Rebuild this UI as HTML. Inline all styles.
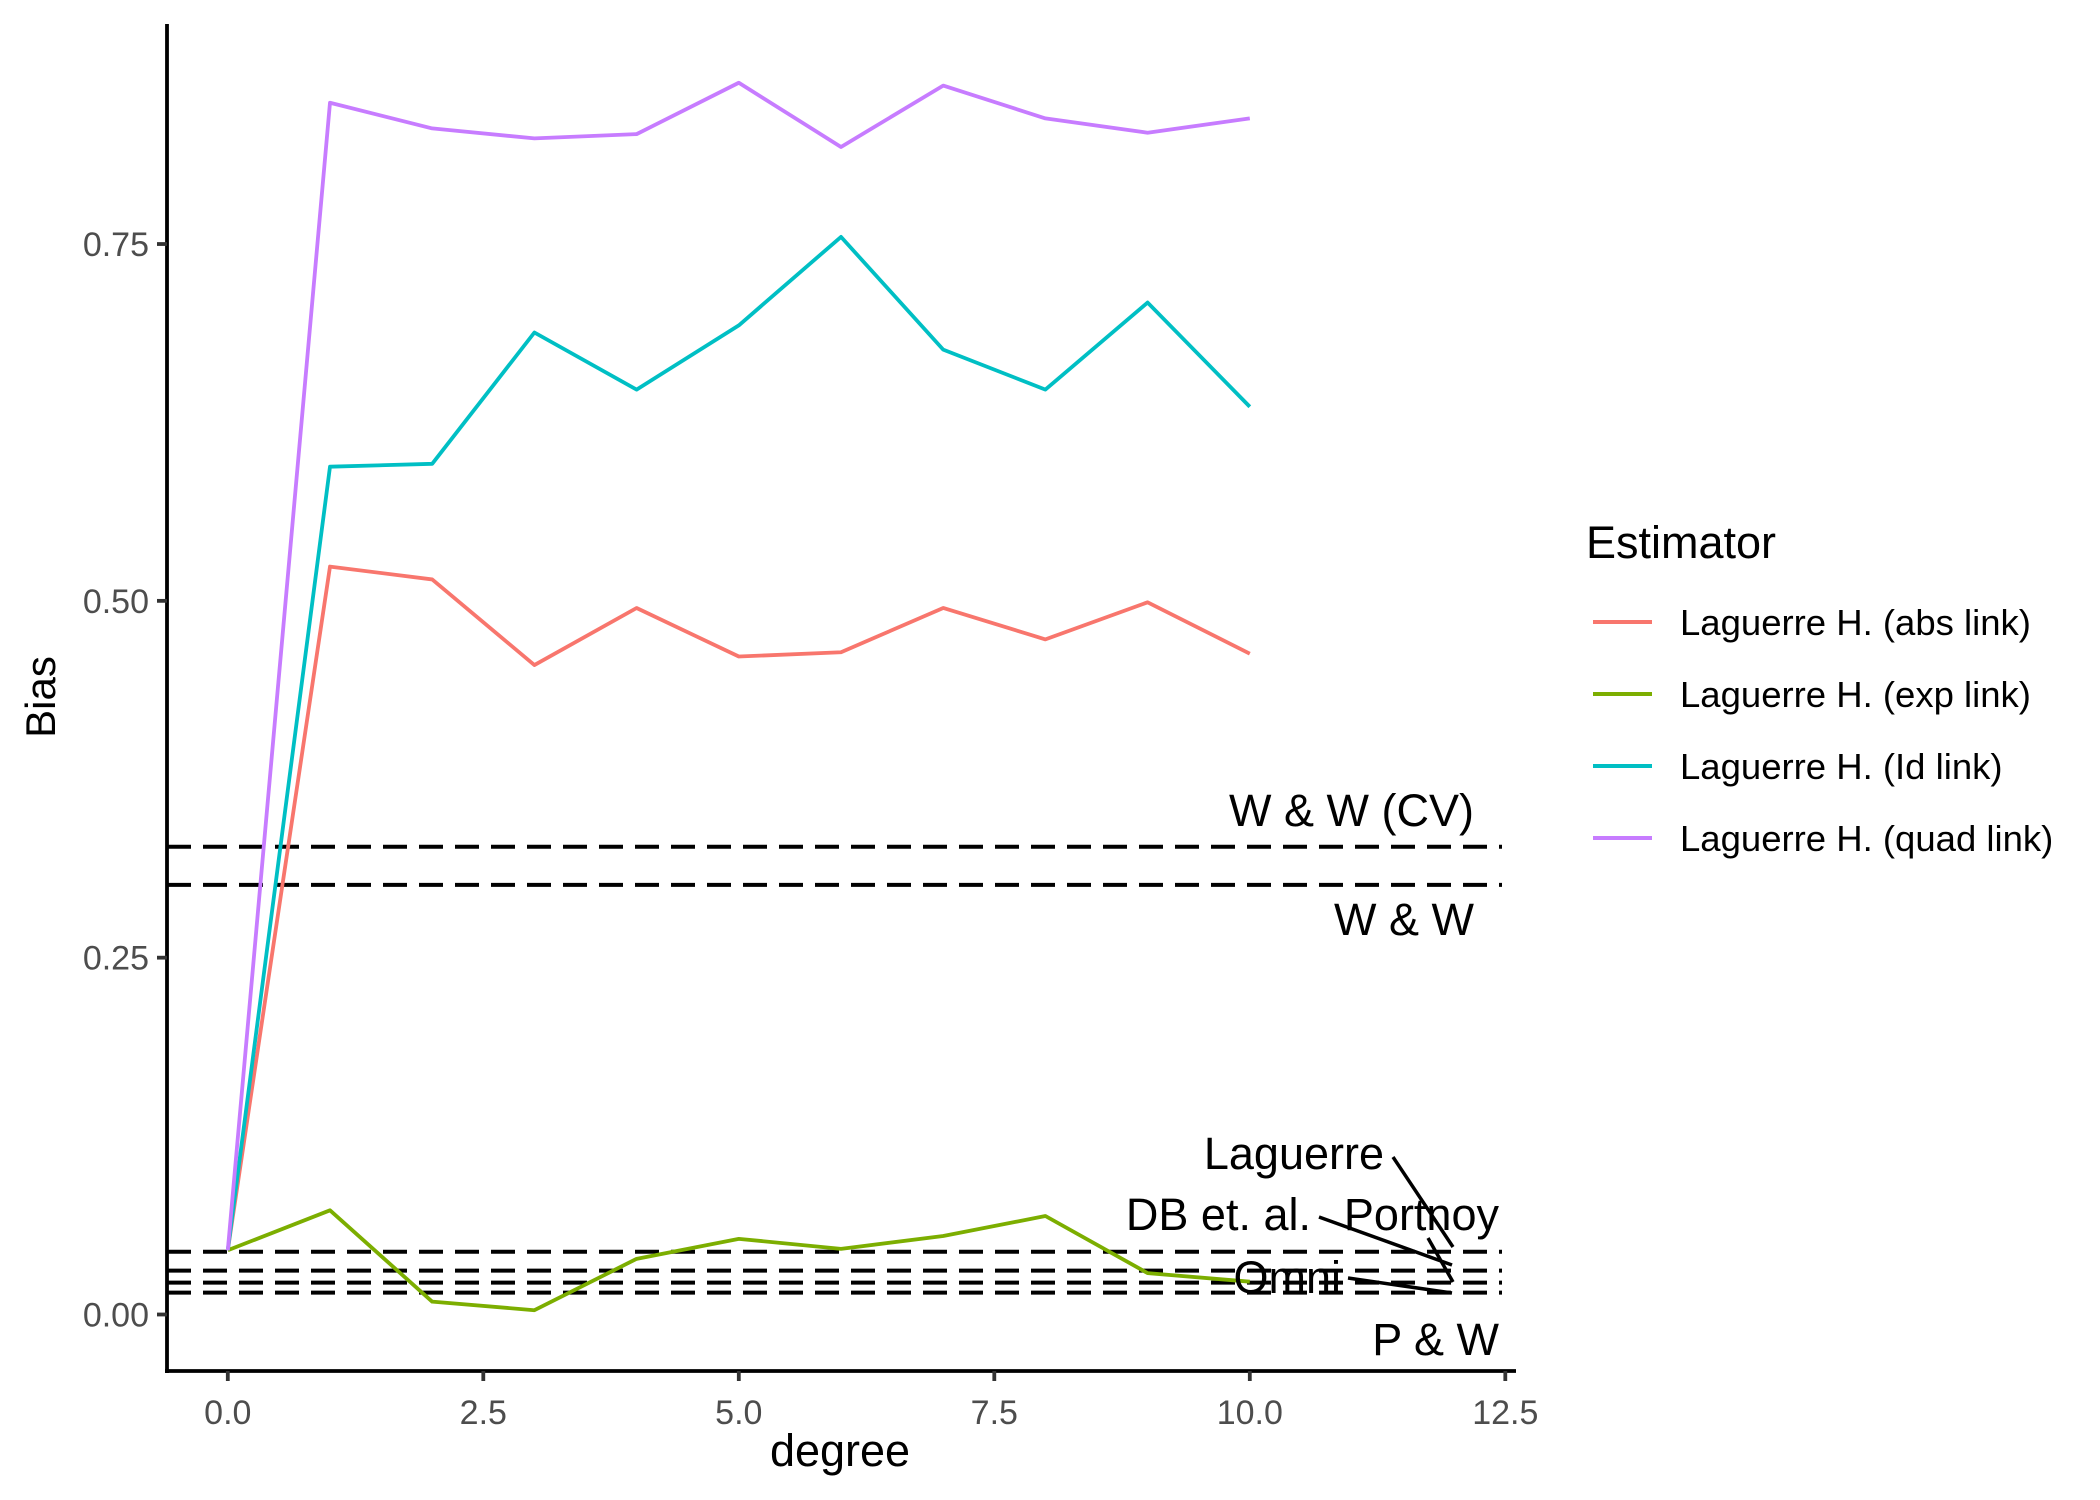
<!DOCTYPE html>
<html><head><meta charset="utf-8"><style>
html,body{margin:0;padding:0;background:#fff;}
svg{display:block;font-family:"Liberation Sans",Arial,sans-serif;}
</style></head><body>
<svg id="chart" width="2100" height="1500" viewBox="0 0 2100 1500" xmlns="http://www.w3.org/2000/svg">
<rect width="2100" height="1500" fill="#fff"/>
<g id="plot"></g>
</svg>
<script>
const degrees=[0,1,2,3,4,5,6,7,8,9,10];
const seriesNames=["Laguerre H. (abs link)","Laguerre H. (exp link)","Laguerre H. (Id link)","Laguerre H. (quad link)"];
const absLink=[0.045,0.524,0.515,0.455,0.495,0.461,0.464,0.495,0.473,0.499,0.463];
const expLink=[0.045,0.073,0.009,0.003,0.039,0.053,0.046,0.055,0.069,0.029,0.023];
const idLink=[0.045,0.594,0.596,0.688,0.648,0.693,0.755,0.676,0.648,0.709,0.636];
const quadLink=[0.045,0.849,0.831,0.824,0.827,0.863,0.818,0.861,0.838,0.828,0.838];
const hlineValues=[0.3277,0.301,0.044,0.0307,0.0223,0.0153];
const xTicks=[0,2.5,5,7.5,10,12.5];
const xTickLabels=["0.0","2.5","5.0","7.5","10.0","12.5"];
const yTicks=[0,0.25,0.5,0.75];
const yTickLabels=["0.00","0.25","0.50","0.75"];

const NS="http://www.w3.org/2000/svg";
const g=document.getElementById('plot');
const colors=["#F8766D","#7CAE00","#00BFC4","#C77CFF"];
const sx=v=>227.8+102.2*v;
const sy=v=>1314.5-1427.3*v;
function mk(tag,attrs,parent){const e=document.createElementNS(NS,tag);for(const k in attrs)e.setAttribute(k,attrs[k]);(parent||g).appendChild(e);return e;}

hlineValues.forEach((v,i)=>{
  const l=mk('line',{x1:167,x2:1502,y1:sy(v),y2:sy(v),stroke:'#000','stroke-width':4,'stroke-dasharray':'24 12'});
  
  
});
[absLink,expLink,idLink,quadLink].forEach((arr,i)=>{
  const p=mk('polyline',{points:arr.map((v,j)=>sx(degrees[j])+','+sy(v)).join(' '),fill:'none',stroke:colors[i],'stroke-width':3.8,'stroke-linejoin':'round'});
  
  
});
const ya=mk('line',{x1:167,x2:167,y1:24,y2:1373,stroke:'#000','stroke-width':3.8});


const xa=mk('line',{x1:165,x2:1516,y1:1371,y2:1371,stroke:'#000','stroke-width':3.8});


xTicks.forEach((v,i)=>{
  mk('line',{x1:sx(v),x2:sx(v),y1:1371,y2:1381,stroke:'#333','stroke-width':3.8});
  const t=mk('text',{x:sx(v),y:1424,'text-anchor':'middle','font-size':34,fill:'#4d4d4d'});
  t.textContent=xTickLabels[i];
  
  
});
yTicks.forEach((v,i)=>{
  mk('line',{x1:157,x2:167,y1:sy(v),y2:sy(v),stroke:'#333','stroke-width':3.8});
  const t=mk('text',{x:149,y:sy(v)+12,'text-anchor':'end','font-size':34,fill:'#4d4d4d'});
  t.textContent=yTickLabels[i];
  
  
});
</script>
<svg style="position:absolute;left:0;top:0" width="2100" height="1500" xmlns="http://www.w3.org/2000/svg">
<g font-family="Liberation Sans, Arial, sans-serif" fill="#000">
<text x="840" y="1466" text-anchor="middle" font-size="45">degree</text>
<text transform="translate(55,697) rotate(-90)" text-anchor="middle" font-size="42">Bias</text>
<g font-size="45" text-anchor="end">
<text x="1474" y="826">W &amp; W (CV)</text>
<text x="1474" y="935">W &amp; W</text>
<text x="1384" y="1169">Laguerre</text>
<text x="1311" y="1230">DB et. al.</text>
<text x="1499" y="1230">Portnoy</text>
<text x="1341" y="1293">Omni</text>
<text x="1499" y="1355">P &amp; W</text>
</g>
<g stroke="#000" stroke-width="3.5">
<line x1="1393" y1="1157" x2="1453" y2="1247"/>
<line x1="1319" y1="1217" x2="1452" y2="1265"/>
<line x1="1428" y1="1238" x2="1453" y2="1282"/>
<line x1="1348" y1="1278" x2="1452" y2="1293"/>
</g>
<g>
<text x="1586" y="558" font-size="45">Estimator</text>
<line x1="1593" x2="1652" y1="622" y2="622" stroke="#F8766D" stroke-width="4"/>
<text x="1680" y="635" font-size="36.5">Laguerre H. (abs link)</text>
<line x1="1593" x2="1652" y1="694" y2="694" stroke="#7CAE00" stroke-width="4"/>
<text x="1680" y="707" font-size="36.5">Laguerre H. (exp link)</text>
<line x1="1593" x2="1652" y1="766" y2="766" stroke="#00BFC4" stroke-width="4"/>
<text x="1680" y="779" font-size="36.5">Laguerre H. (Id link)</text>
<line x1="1593" x2="1652" y1="838" y2="838" stroke="#C77CFF" stroke-width="4"/>
<text x="1680" y="851" font-size="36.5">Laguerre H. (quad link)</text>
</g>
</g>
</svg>
</body></html>
